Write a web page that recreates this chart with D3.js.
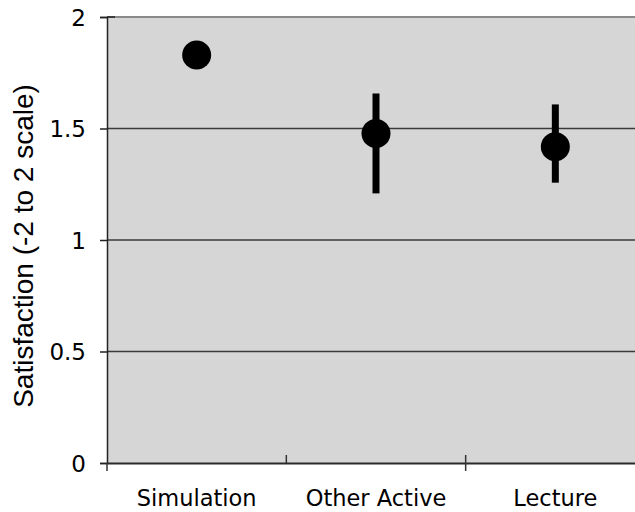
<!DOCTYPE html>
<meta charset="utf-8">
<html>
<head>
  <style>
    body { margin: 0; background: #fff; }
    svg { display: block; }
    .tick text { font-family: "DejaVu Sans", Verdana, sans-serif; }
  </style>
</head>
<body>
<svg id="chart" width="635" height="512"></svg>
<script src="https://d3js.org/d3.v7.min.js"></script>
<script>

// values
const categories = ["Simulation", "Other Active", "Lecture"];
const means = [1.83, 1.478, 1.418];
const errLow = [null, 1.209, 1.257];
const errHigh = [null, 1.657, 1.608];
const yTicks = [0, 0.5, 1, 1.5, 2];

const svg = d3.select("#chart");
const margin = { left: 107, top: 17, right: -10, bottom: 49 };
const width = +svg.attr("width"), height = +svg.attr("height");

const x = d3.scaleBand()
  .domain(categories)
  .range([margin.left, width - margin.right]);

const y = d3.scaleLinear()
  .domain([0, 2])
  .range([height - margin.bottom, margin.top]);

// plot background
svg.append("rect")
  .attr("x", margin.left)
  .attr("y", margin.top)
  .attr("width", width - margin.right - margin.left)
  .attr("height", y(0) - y(2))
  .attr("fill", "#d6d6d6");

// gridlines
svg.append("g")
  .selectAll("line")
  .data(yTicks.filter(d => d > 0 && d < 2))
  .join("line")
  .attr("x1", margin.left)
  .attr("x2", width)
  .attr("y1", d => y(d))
  .attr("y2", d => y(d))
  .attr("stroke", "#3a3a3a")
  .attr("stroke-width", 1.5);

// top border
svg.append("line")
  .attr("x1", margin.left).attr("x2", width)
  .attr("y1", y(2)).attr("y2", y(2))
  .attr("stroke", "#8a8a8a").attr("stroke-width", 2);

// y axis
const yAxis = svg.append("g")
  .attr("transform", `translate(${margin.left},0)`)
  .call(d3.axisLeft(y).tickValues(yTicks).tickFormat(d3.format("")).tickSize(7).tickPadding(14));
yAxis.select(".domain").attr("stroke", "#222").attr("stroke-width", 1.5);
yAxis.selectAll(".tick line").attr("stroke", "#222").attr("stroke-width", 1.5);
yAxis.selectAll(".tick text")
  .attr("font-size", 23)
  .attr("fill", "#000")
  .attr("dy", "0.36em");
// short tick stub inside at the top
svg.append("line")
  .attr("x1", margin.left).attr("x2", margin.left + 8)
  .attr("y1", y(2)).attr("y2", y(2))
  .attr("stroke", "#222").attr("stroke-width", 1.5);

// x axis
const xAxis = svg.append("g")
  .attr("transform", `translate(0,${y(0)})`)
  .call(d3.axisBottom(x).tickSize(0).tickPadding(27));
xAxis.select(".domain").attr("stroke", "#2a2a2a").attr("stroke-width", 2);
xAxis.selectAll(".tick text")
  .attr("font-size", 22.5)
  .attr("fill", "#000");

// category separators
const bounds = categories.map(c => x(c));
svg.append("g")
  .selectAll("line")
  .data(bounds)
  .join("line")
  .attr("x1", d => d).attr("x2", d => d)
  .attr("y1", (d, i) => i === 0 ? y(0) : y(0) - 8)
  .attr("y2", (d, i) => i === 1 ? y(0) : y(0) + 8)
  .attr("stroke", "#333")
  .attr("stroke-width", 1.5);

// data
const data = categories.map((c, i) => ({ cat: c, mean: means[i], lo: errLow[i], hi: errHigh[i] }));
const cx = d => x(d.cat) + x.bandwidth() / 2;

svg.append("g")
  .selectAll("line")
  .data(data.filter(d => d.lo !== null))
  .join("line")
  .attr("x1", cx).attr("x2", cx)
  .attr("y1", d => y(d.lo))
  .attr("y2", d => y(d.hi))
  .attr("stroke", "#000")
  .attr("stroke-width", 7);

svg.append("g")
  .selectAll("circle")
  .data(data)
  .join("circle")
  .attr("cx", cx)
  .attr("cy", d => y(d.mean))
  .attr("r", 14.5)
  .attr("fill", "#000");

// y axis title
svg.append("text")
  .attr("transform", `translate(33,${(margin.top + y(0)) / 2 + 6}) rotate(-90)`)
  .attr("text-anchor", "middle")
  .attr("font-family", "Liberation Sans, Arial, sans-serif")
  .attr("font-size", 28)
  .text("Satisfaction (-2 to 2 scale)");

</script>
</body>
</html>
